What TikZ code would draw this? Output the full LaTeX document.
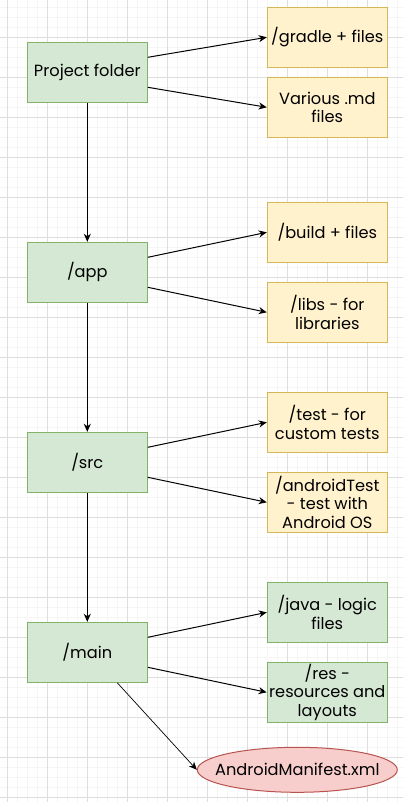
\documentclass[tikz,border=0pt]{standalone}
\usepackage{fontspec}
\setmainfont{Poppins}
\usetikzlibrary{arrows.meta,shapes.geometric}

\definecolor{greenfill}{HTML}{D5E8D4}
\definecolor{greendraw}{HTML}{82B366}
\definecolor{yellowfill}{HTML}{FFF2CC}
\definecolor{yellowdraw}{HTML}{D6B656}
\definecolor{redfill}{HTML}{F8CECC}
\definecolor{reddraw}{HTML}{B85450}

\begin{document}
\begin{tikzpicture}[
    x=1pt, y=-1pt,
    folder/.style={rectangle, draw=greendraw, fill=greenfill, line width=1pt,
        minimum width=120pt, minimum height=60pt, inner sep=2pt,
        align=center, font=\fontsize{16.2}{18.3}\selectfont},
    content/.style={folder, draw=yellowdraw, fill=yellowfill},
    manifest/.style={ellipse, draw=reddraw, fill=redfill, line width=1pt,
        minimum width=200pt, minimum height=45pt, inner sep=0pt,
        font=\fontsize{16.2}{18.3}\selectfont},
    edge/.style={line width=1pt, -{Stealth[length=8pt,width=7pt,inset=2.5pt]}},
    minorgrid/.style={draw=black!4, line width=0.8pt},
    majorgrid/.style={draw=black!13, line width=1pt}
]
    \clip (0,0) rectangle (403,802);
    \fill[white] (0,0) rectangle (403,802);
    % background grid
    \draw[minorgrid, step=10pt, shift={(7.3,7.3)}] (-20,-20) grid (420,820);
    \draw[majorgrid, step=40pt, shift={(7.3,37.3)}] (-40,-80) grid (440,840);

    \node[folder] (project) at (87.3,72.3) {Project folder};
    \node[content] (gradle) at (327.3,37.3) {/gradle + files};
    \node[content] (md) at (327.3,107.3) {Various .md\\files};

    \node[folder] (app) at (87.3,272.3) {/app};
    \node[content] (build) at (327.3,232.3) {/build + files};
    \node[content] (libs) at (327.3,312.3) {/libs - for\\libraries};

    \node[folder] (src) at (87.3,462.3) {/src};
    \node[content] (test) at (327.3,422.3) {/test - for\\custom tests};
    \node[content] (atest) at (327.3,502.3) {/androidTest\\- test with\\Android OS};

    \node[folder] (main) at (87.3,652.3) {/main};
    \node[folder] (java) at (327.3,612.3) {/java - logic\\files};
    \node[folder] (res) at (327.3,692.3) {/res -\\resources and\\layouts};
    \node[manifest] (xml) at (297.3,769.8) {\makebox[0pt]{AndroidManifest.xml}};

    \draw[edge] ([yshift=15pt]project.east) -- (gradle.west);
    \draw[edge] ([yshift=-15pt]project.east) -- (md.west);
    \draw[edge] (project) -- (app);

    \draw[edge] ([yshift=15pt]app.east) -- (build.west);
    \draw[edge] ([yshift=-15pt]app.east) -- (libs.west);
    \draw[edge] (app) -- (src);

    \draw[edge] ([yshift=15pt]src.east) -- (test.west);
    \draw[edge] ([yshift=-15pt]src.east) -- (atest.west);
    \draw[edge] (src) -- (main);

    \draw[edge] ([yshift=15pt]main.east) -- (java.west);
    \draw[edge] ([yshift=-15pt]main.east) -- (res.west);
    \draw[edge, line width=0.7pt] ([xshift=30pt]main.south) -- (xml.west);
\end{tikzpicture}
\end{document}
